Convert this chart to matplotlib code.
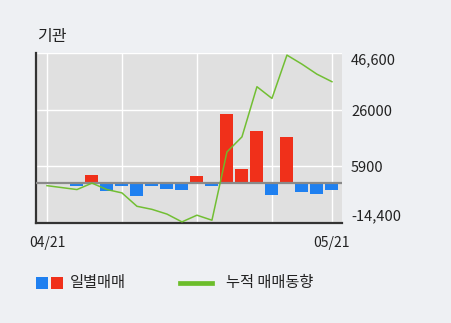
import numpy as np
import matplotlib
matplotlib.use('Agg')
import matplotlib.pyplot as plt
from matplotlib.patches import Rectangle
from matplotlib.lines import Line2D

plt.rcParams['font.family'] = ['Noto Sans CJK KR', 'DejaVu Sans']

# daily net trading (bars) and cumulative trend (line)
daily = [-400, -200, -1100, 2800, -2900, -1100, -4700, -1100, -2300, -2500,
         2500, -1100, 24700, 4900, 18550, -4300, 16400, -3200, -3950, -2500]
cumul = [-1000, -1700, -2400, -100, -2400, -3600, -8400, -9500, -11200, -14000,
         -11600, -13400, 11100, 16500, 34500, 30300, 45850, 42600, 39000, 36300]
date_labels = ['04/21', '', '', '', '05/21']
date_pos = [0, 5, 10, 15, 19]
yticks = [-14400, 5900, 26000, 46600]
ytick_labels = ['-14,400', '5900', '26000', '46,600']

red = '#f0301a'
blue = '#1f80f0'
green = '#6cbd2a'
W, H = 451, 323

fig = plt.figure(figsize=(W / 100, H / 100), dpi=100, facecolor='#eef0f3')
ax = fig.add_axes([36 / W, 1 - 223 / H, 306 / W, 170 / H])
ax.set_facecolor('#e0e0e0')

x = np.arange(len(daily))
colors = [red if v > 0 else blue for v in daily]
ax.bar(x, daily, width=0.87, color=colors, zorder=3)
ax.axhline(0, color='#8a8a8a', lw=1.6, zorder=4)
ax.plot(x, cumul, color=green, lw=1.1, zorder=5, alpha=0.95)

ax.set_xlim(-0.73, 19.67)
ax.set_ylim(-14400, 46600)
ax.set_xticks(date_pos)
ax.set_xticklabels(date_labels, fontsize=10)
ax.set_yticks(yticks)
ax.set_yticklabels(ytick_labels, fontsize=10.5)
ax.yaxis.tick_right()
ax.tick_params(axis='both', length=0, colors='#222222')
ax.tick_params(axis='y', pad=6.5)
ax.tick_params(axis='x', pad=9)
labs = ax.get_yticklabels()
labs[0].set_va('bottom')
labs[-1].set_va('top')
ax.grid(True, color='white', lw=1.0, zorder=1)
ax.set_axisbelow(True)

for s in ['top', 'right']:
    ax.spines[s].set_visible(False)
ax.spines['left'].set_color('#333333')
ax.spines['left'].set_linewidth(1.6)
ax.spines['bottom'].set_color('#333333')
ax.spines['bottom'].set_linewidth(1.6)

fig.text(37 / W, 1 - 37 / H, '기관', fontsize=11.5, va='center', ha='left', color='#222222')

# legend
ly = 1 - 283 / H
fig.add_artist(Rectangle((36 / W, 1 - 289 / H), 12 / W, 12 / H, transform=fig.transFigure,
                         color=blue, lw=0))
fig.add_artist(Rectangle((51 / W, 1 - 289 / H), 12 / W, 12 / H, transform=fig.transFigure,
                         color=red, lw=0))
fig.text(70 / W, ly, '일별매매', fontsize=11, va='center', ha='left', color='#222222')
fig.add_artist(Line2D([180 / W, 212 / W], [ly, ly], transform=fig.transFigure,
                      color=green, lw=3.4))
fig.text(226 / W, ly, '누적 매매동향', fontsize=11, va='center', ha='left', color='#222222')

fig.savefig('out.png', dpi=100, facecolor=fig.get_facecolor())
